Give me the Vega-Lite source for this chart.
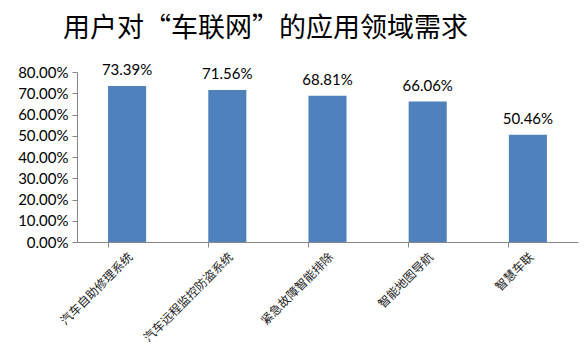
{
  "$schema": "https://vega.github.io/schema/vega-lite/v6.json",
  "width": 501,
  "height": 170,
  "autosize": "none",
  "padding": {"left": 77, "top": 72, "right": 10, "bottom": 111},
  "background": "white",
  "title": {
    "text": "用户对“车联网”的应用领域需求",
    "font": "Noto Sans CJK SC",
    "fontSize": 27,
    "fontWeight": "normal",
    "color": "#000000",
    "anchor": "start",
    "frame": "group",
    "dx": -14,
    "offset": 20
  },
  "data": {
    "values": [
      {"app": "汽车自助修理系统", "pct": 0.7339},
      {"app": "汽车远程监控防盗系统", "pct": 0.7156},
      {"app": "紧急故障智能排除", "pct": 0.6881},
      {"app": "智能地图导航", "pct": 0.6606},
      {"app": "智慧车联", "pct": 0.5046}
    ]
  },
  "config": {"view": {"stroke": null}},
  "encoding": {
    "x": {
      "field": "app",
      "type": "nominal",
      "sort": null,
      "scale": {"paddingInner": 0.62, "paddingOuter": 0.31},
      "axis": {
        "title": null,
        "labelAngle": -45,
        "labelAlign": "right",
        "labelBaseline": "top",
        "labelFont": "Noto Sans CJK SC",
        "labelFontSize": 12,
        "labelColor": "#222222",
        "labelPadding": 4,
        "domainColor": "#868686",
        "tickColor": "#868686",
        "tickSize": 5,
        "bandPosition": 0,
        "grid": false
      }
    },
    "y": {
      "field": "pct",
      "type": "quantitative",
      "scale": {"domain": [0, 0.8]},
      "axis": {
        "title": null,
        "format": ".2%",
        "values": [0, 0.1, 0.2, 0.3, 0.4, 0.5, 0.6, 0.7, 0.8],
        "grid": false,
        "labelFont": "Lato",
        "labelFontSize": 15,
        "labelColor": "#000000",
        "labelPadding": 4,
        "domainColor": "#868686",
        "tickColor": "#868686",
        "tickSize": 5
      }
    }
  },
  "layer": [
    {"mark": {"type": "bar", "color": "#4F81BD"}},
    {
      "mark": {"type": "text", "baseline": "bottom", "dy": -8, "font": "Lato", "fontSize": 15, "color": "#000000"},
      "encoding": {"text": {"field": "pct", "format": ".2%"}}
    }
  ]
}
